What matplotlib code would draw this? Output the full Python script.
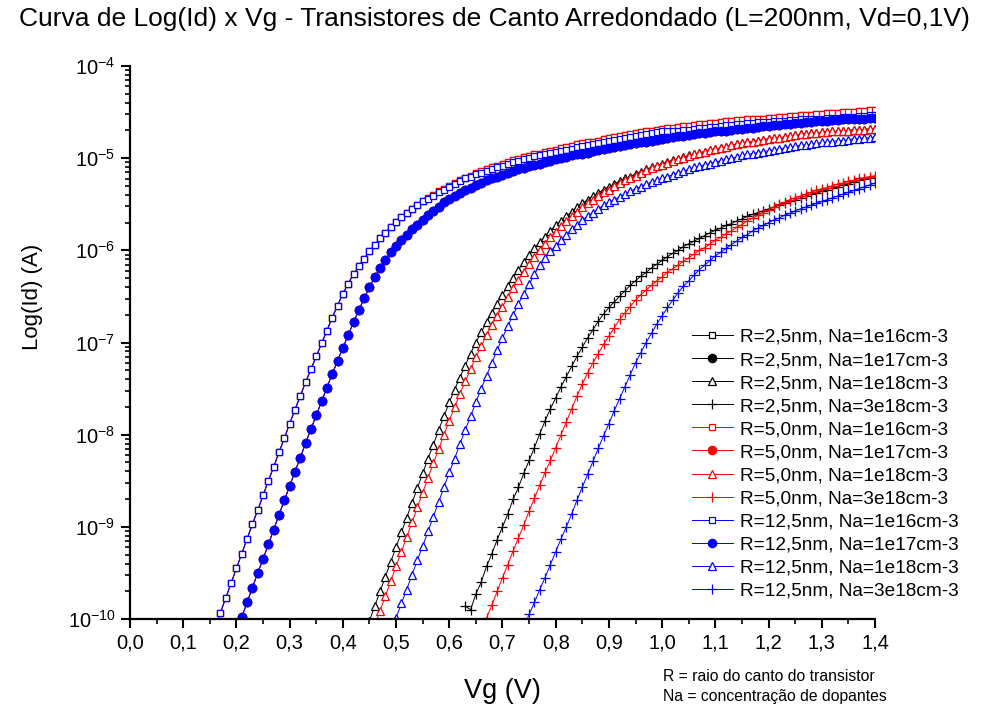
import numpy as np
import matplotlib
matplotlib.use("Agg")
import matplotlib.pyplot as plt
from matplotlib.ticker import FixedLocator, MultipleLocator, LogLocator, NullFormatter

plt.rcParams['font.family'] = ['Liberation Sans', 'DejaVu Sans']
plt.rcParams['mathtext.fontset'] = 'custom'
plt.rcParams['mathtext.rm'] = 'Liberation Sans'
plt.rcParams['mathtext.it'] = 'Liberation Sans:italic'

# ---------------------------------------------------------------------------
# Measured drain current, stored as log10(Id [A]), sampled every 0.01 V of Vg.
# Each series starts at the gate voltage given in VG_START.
# ---------------------------------------------------------------------------
VG_STEP = 0.01

# R = 2,5 nm
LOG_ID_R25_NA1E16 = [
    -10.09, -9.93, -9.77, -9.61, -9.45, -9.29, -9.13, -8.97, -8.82, -8.66,
    -8.50, -8.35, -8.19, -8.04, -7.88, -7.73, -7.58, -7.43, -7.29, -7.15,
    -7.01, -6.87, -6.73, -6.60, -6.47, -6.36, -6.26, -6.17, -6.09, -6.01,
    -5.94, -5.87, -5.81, -5.75, -5.69, -5.64, -5.59, -5.55, -5.51, -5.47,
    -5.43, -5.40, -5.36, -5.33, -5.30, -5.27, -5.24, -5.21, -5.19, -5.16,
    -5.14, -5.12, -5.10, -5.08, -5.06, -5.04, -5.02, -5.01, -4.99, -4.98,
    -4.96, -4.95, -4.93, -4.92, -4.91, -4.89, -4.88, -4.87, -4.85, -4.84,
    -4.83, -4.82, -4.81, -4.79, -4.78, -4.77, -4.76, -4.75, -4.74, -4.73,
    -4.72, -4.71, -4.70, -4.69, -4.68, -4.67, -4.67, -4.66, -4.65, -4.65,
    -4.64, -4.63, -4.63, -4.62, -4.62, -4.61, -4.60, -4.60, -4.59, -4.59,
    -4.58, -4.58, -4.57, -4.57, -4.56, -4.56, -4.55, -4.55, -4.54, -4.54,
    -4.53, -4.53, -4.53, -4.52, -4.52, -4.51, -4.51, -4.51, -4.50, -4.50,
    -4.50, -4.49, -4.49, -4.48, -4.48,
]
LOG_ID_R25_NA1E17 = [
    -10.14, -9.98, -9.82, -9.66, -9.50, -9.35, -9.19, -9.03, -8.87, -8.71,
    -8.56, -8.40, -8.25, -8.09, -7.94, -7.79, -7.64, -7.49, -7.34, -7.20,
    -7.06, -6.92, -6.78, -6.65, -6.52, -6.40, -6.29, -6.19, -6.10, -6.02,
    -5.95, -5.89, -5.83, -5.77, -5.72, -5.67, -5.62, -5.57, -5.53, -5.48,
    -5.44, -5.41, -5.38, -5.35, -5.32, -5.29, -5.27, -5.24, -5.22, -5.20,
    -5.18, -5.16, -5.14, -5.12, -5.11, -5.09, -5.07, -5.06, -5.04, -5.03,
    -5.01, -5.00, -4.99, -4.97, -4.96, -4.95, -4.94, -4.92, -4.91, -4.90,
    -4.89, -4.88, -4.87, -4.86, -4.85, -4.84, -4.83, -4.82, -4.81, -4.80,
    -4.79, -4.78, -4.77, -4.76, -4.76, -4.75, -4.74, -4.73, -4.73, -4.72,
    -4.71, -4.70, -4.70, -4.69, -4.68, -4.68, -4.67, -4.67, -4.66, -4.65,
    -4.65, -4.64, -4.64, -4.63, -4.63, -4.62, -4.62, -4.61, -4.61, -4.60,
    -4.60, -4.60, -4.59, -4.59, -4.58, -4.58, -4.58, -4.57, -4.57, -4.56,
    -4.56,
]
LOG_ID_R25_NA1E18 = [
    -10.02, -9.86, -9.70, -9.54, -9.38, -9.22, -9.06, -8.90, -8.74, -8.58,
    -8.42, -8.26, -8.11, -7.95, -7.80, -7.65, -7.51, -7.38, -7.25, -7.12,
    -7.00, -6.89, -6.78, -6.68, -6.58, -6.48, -6.39, -6.30, -6.21, -6.13,
    -6.05, -5.98, -5.91, -5.85, -5.79, -5.73, -5.68, -5.63, -5.58, -5.53,
    -5.49, -5.45, -5.41, -5.38, -5.34, -5.31, -5.28, -5.25, -5.22, -5.20,
    -5.17, -5.15, -5.12, -5.10, -5.08, -5.06, -5.04, -5.02, -5.01, -4.99,
    -4.97, -4.96, -4.94, -4.93, -4.91, -4.90, -4.89, -4.88, -4.86, -4.85,
    -4.84, -4.83, -4.82, -4.81, -4.80, -4.79, -4.78, -4.78, -4.77, -4.76,
    -4.75, -4.74, -4.74, -4.73, -4.73, -4.72, -4.72, -4.71, -4.71, -4.70,
    -4.70, -4.69, -4.69, -4.69, -4.68, -4.68,
]
LOG_ID_R25_NA3E18 = [
    -9.86, -9.90, -9.73, -9.60, -9.43, -9.29, -9.14, -9.00, -8.86, -8.70,
    -8.57, -8.42, -8.28, -8.14, -7.99, -7.85, -7.72, -7.60, -7.48, -7.37,
    -7.26, -7.15, -7.05, -6.95, -6.86, -6.77, -6.69, -6.62, -6.56, -6.50,
    -6.44, -6.38, -6.33, -6.28, -6.24, -6.19, -6.15, -6.11, -6.07, -6.03,
    -6.00, -5.96, -5.93, -5.90, -5.87, -5.84, -5.81, -5.78, -5.76, -5.73,
    -5.71, -5.68, -5.66, -5.63, -5.61, -5.59, -5.57, -5.55, -5.53, -5.51,
    -5.49, -5.47, -5.45, -5.43, -5.41, -5.39, -5.38, -5.36, -5.34, -5.32,
    -5.31, -5.29, -5.28, -5.26, -5.24, -5.23, -5.21, -5.20,
]

# R = 5,0 nm
LOG_ID_R50_NA1E16 = [
    -10.09, -9.93, -9.77, -9.61, -9.45, -9.29, -9.13, -8.97, -8.82, -8.66,
    -8.50, -8.35, -8.19, -8.04, -7.88, -7.73, -7.58, -7.43, -7.29, -7.15,
    -7.01, -6.87, -6.73, -6.60, -6.47, -6.36, -6.26, -6.17, -6.09, -6.01,
    -5.94, -5.87, -5.81, -5.75, -5.69, -5.64, -5.59, -5.55, -5.51, -5.47,
    -5.43, -5.40, -5.36, -5.33, -5.30, -5.27, -5.24, -5.21, -5.19, -5.16,
    -5.14, -5.12, -5.10, -5.08, -5.06, -5.04, -5.02, -5.01, -4.99, -4.98,
    -4.96, -4.95, -4.93, -4.92, -4.91, -4.89, -4.88, -4.87, -4.85, -4.84,
    -4.83, -4.82, -4.81, -4.79, -4.78, -4.77, -4.76, -4.75, -4.74, -4.73,
    -4.72, -4.71, -4.70, -4.69, -4.68, -4.67, -4.67, -4.66, -4.65, -4.65,
    -4.64, -4.63, -4.63, -4.62, -4.62, -4.61, -4.60, -4.60, -4.59, -4.59,
    -4.58, -4.58, -4.57, -4.57, -4.56, -4.56, -4.55, -4.55, -4.54, -4.54,
    -4.53, -4.53, -4.53, -4.52, -4.52, -4.51, -4.51, -4.51, -4.50, -4.50,
    -4.50, -4.49, -4.49, -4.48, -4.48,
]
LOG_ID_R50_NA1E17 = [
    -10.14, -9.98, -9.82, -9.66, -9.50, -9.35, -9.19, -9.03, -8.87, -8.71,
    -8.56, -8.40, -8.25, -8.09, -7.94, -7.79, -7.64, -7.49, -7.34, -7.20,
    -7.06, -6.92, -6.78, -6.65, -6.52, -6.40, -6.29, -6.19, -6.10, -6.02,
    -5.95, -5.89, -5.83, -5.77, -5.72, -5.67, -5.62, -5.57, -5.53, -5.48,
    -5.44, -5.41, -5.38, -5.35, -5.32, -5.29, -5.27, -5.24, -5.22, -5.20,
    -5.18, -5.16, -5.14, -5.12, -5.11, -5.09, -5.07, -5.06, -5.04, -5.03,
    -5.01, -5.00, -4.99, -4.97, -4.96, -4.95, -4.94, -4.92, -4.91, -4.90,
    -4.89, -4.88, -4.87, -4.86, -4.85, -4.84, -4.83, -4.82, -4.81, -4.80,
    -4.79, -4.78, -4.77, -4.76, -4.76, -4.75, -4.74, -4.73, -4.73, -4.72,
    -4.71, -4.70, -4.70, -4.69, -4.68, -4.68, -4.67, -4.67, -4.66, -4.65,
    -4.65, -4.64, -4.64, -4.63, -4.63, -4.62, -4.62, -4.61, -4.61, -4.60,
    -4.60, -4.60, -4.59, -4.59, -4.58, -4.58, -4.58, -4.57, -4.57, -4.56,
    -4.56,
]
LOG_ID_R50_NA1E18 = [
    -10.07, -9.91, -9.75, -9.59, -9.43, -9.27, -9.11, -8.95, -8.79, -8.63,
    -8.47, -8.31, -8.16, -8.00, -7.85, -7.70, -7.56, -7.42, -7.29, -7.16,
    -7.04, -6.92, -6.81, -6.71, -6.61, -6.51, -6.41, -6.32, -6.23, -6.15,
    -6.07, -6.00, -5.93, -5.86, -5.80, -5.74, -5.68, -5.63, -5.58, -5.53,
    -5.49, -5.45, -5.41, -5.37, -5.34, -5.30, -5.27, -5.24, -5.21, -5.19,
    -5.16, -5.13, -5.11, -5.09, -5.07, -5.05, -5.03, -5.01, -5.00, -4.98,
    -4.96, -4.94, -4.93, -4.91, -4.90, -4.89, -4.88, -4.86, -4.85, -4.84,
    -4.83, -4.82, -4.81, -4.80, -4.79, -4.78, -4.78, -4.77, -4.76, -4.75,
    -4.74, -4.74, -4.73, -4.73, -4.72, -4.72, -4.71, -4.71, -4.70, -4.70,
    -4.69, -4.69, -4.69, -4.68, -4.68,
]
LOG_ID_R50_NA3E18 = [
    -10.14, -9.99, -9.85, -9.70, -9.55, -9.41, -9.26, -9.12, -8.98, -8.83,
    -8.69, -8.55, -8.41, -8.28, -8.14, -8.00, -7.86, -7.72, -7.58, -7.45,
    -7.33, -7.22, -7.12, -7.02, -6.93, -6.84, -6.75, -6.68, -6.61, -6.54,
    -6.48, -6.43, -6.38, -6.33, -6.29, -6.24, -6.20, -6.16, -6.12, -6.08,
    -6.04, -6.00, -5.97, -5.93, -5.89, -5.86, -5.82, -5.79, -5.75, -5.72,
    -5.68, -5.65, -5.62, -5.59, -5.56, -5.53, -5.50, -5.48, -5.45, -5.43,
    -5.41, -5.39, -5.37, -5.35, -5.33, -5.32, -5.30, -5.28, -5.27, -5.25,
    -5.24, -5.22, -5.21, -5.20, -5.19,
]

# R = 12,5 nm
LOG_ID_R125_NA1E16 = [
    -10.09, -9.93, -9.77, -9.61, -9.45, -9.29, -9.13, -8.97, -8.82, -8.66,
    -8.50, -8.35, -8.19, -8.04, -7.88, -7.73, -7.58, -7.43, -7.29, -7.15,
    -7.01, -6.87, -6.73, -6.60, -6.47, -6.36, -6.26, -6.17, -6.09, -6.01,
    -5.94, -5.87, -5.81, -5.75, -5.69, -5.64, -5.59, -5.55, -5.51, -5.47,
    -5.44, -5.41, -5.37, -5.34, -5.31, -5.28, -5.25, -5.22, -5.20, -5.17,
    -5.16, -5.14, -5.12, -5.10, -5.08, -5.06, -5.04, -5.03, -5.01, -5.00,
    -4.98, -4.97, -4.95, -4.94, -4.93, -4.92, -4.91, -4.90, -4.88, -4.87,
    -4.86, -4.85, -4.84, -4.82, -4.81, -4.80, -4.79, -4.78, -4.77, -4.76,
    -4.75, -4.74, -4.73, -4.72, -4.71, -4.71, -4.71, -4.70, -4.69, -4.69,
    -4.68, -4.67, -4.67, -4.66, -4.66, -4.65, -4.64, -4.64, -4.63, -4.63,
    -4.62, -4.62, -4.61, -4.61, -4.61, -4.60, -4.60, -4.60, -4.59, -4.59,
    -4.58, -4.58, -4.58, -4.57, -4.57, -4.56, -4.56, -4.56, -4.55, -4.55,
    -4.55, -4.54, -4.54, -4.53, -4.53,
]
LOG_ID_R125_NA1E17 = [
    -10.14, -9.98, -9.82, -9.66, -9.50, -9.35, -9.19, -9.03, -8.87, -8.71,
    -8.56, -8.40, -8.25, -8.09, -7.94, -7.79, -7.64, -7.49, -7.34, -7.20,
    -7.06, -6.92, -6.78, -6.65, -6.52, -6.40, -6.29, -6.19, -6.10, -6.02,
    -5.95, -5.89, -5.83, -5.77, -5.72, -5.67, -5.62, -5.57, -5.53, -5.48,
    -5.44, -5.41, -5.38, -5.35, -5.32, -5.29, -5.27, -5.24, -5.22, -5.20,
    -5.18, -5.16, -5.14, -5.12, -5.11, -5.09, -5.07, -5.06, -5.04, -5.03,
    -5.01, -5.00, -4.99, -4.97, -4.96, -4.95, -4.94, -4.92, -4.91, -4.90,
    -4.89, -4.88, -4.87, -4.86, -4.85, -4.84, -4.83, -4.82, -4.81, -4.80,
    -4.79, -4.78, -4.77, -4.76, -4.76, -4.75, -4.74, -4.73, -4.73, -4.72,
    -4.71, -4.70, -4.70, -4.69, -4.68, -4.68, -4.67, -4.67, -4.66, -4.65,
    -4.65, -4.64, -4.64, -4.63, -4.63, -4.62, -4.62, -4.61, -4.61, -4.60,
    -4.60, -4.60, -4.59, -4.59, -4.58, -4.58, -4.58, -4.57, -4.57, -4.56,
    -4.56,
]
LOG_ID_R125_NA1E18 = [
    -10.14, -9.99, -9.83, -9.68, -9.52, -9.36, -9.21, -9.05, -8.89, -8.73,
    -8.57, -8.41, -8.26, -8.10, -7.95, -7.80, -7.65, -7.50, -7.36, -7.22,
    -7.08, -6.95, -6.82, -6.70, -6.58, -6.47, -6.37, -6.26, -6.16, -6.08,
    -6.01, -5.95, -5.89, -5.83, -5.77, -5.72, -5.67, -5.63, -5.59, -5.55,
    -5.51, -5.48, -5.45, -5.42, -5.39, -5.36, -5.33, -5.31, -5.28, -5.26,
    -5.24, -5.22, -5.20, -5.18, -5.16, -5.14, -5.12, -5.10, -5.09, -5.07,
    -5.06, -5.04, -5.03, -5.01, -5.00, -4.99, -4.97, -4.96, -4.95, -4.94,
    -4.93, -4.92, -4.91, -4.90, -4.89, -4.88, -4.87, -4.86, -4.86, -4.85,
    -4.84, -4.83, -4.83, -4.82, -4.81, -4.81, -4.80, -4.79, -4.79, -4.78,
    -4.78, -4.77,
]
LOG_ID_R125_NA3E18 = [
    -10.09, -9.95, -9.82, -9.68, -9.55, -9.41, -9.27, -9.13, -9.00, -8.86,
    -8.71, -8.57, -8.43, -8.29, -8.15, -8.01, -7.88, -7.74, -7.61, -7.48,
    -7.35, -7.22, -7.11, -7.00, -6.90, -6.80, -6.71, -6.62, -6.54, -6.46,
    -6.39, -6.33, -6.27, -6.21, -6.16, -6.11, -6.06, -6.02, -5.98, -5.94,
    -5.90, -5.86, -5.83, -5.79, -5.76, -5.73, -5.70, -5.67, -5.65, -5.62,
    -5.60, -5.57, -5.55, -5.53, -5.51, -5.49, -5.47, -5.45, -5.43, -5.41,
    -5.39, -5.37, -5.35, -5.33, -5.31, -5.29, -5.27,
]

# First gate voltage (V) of each series
VG_START = {
    'R25_NA1E16': 0.16, 'R25_NA1E17': 0.20, 'R25_NA1E18': 0.45, 'R25_NA3E18': 0.63,
    'R50_NA1E16': 0.16, 'R50_NA1E17': 0.20, 'R50_NA1E18': 0.46, 'R50_NA3E18': 0.66,
    'R125_NA1E16': 0.16, 'R125_NA1E17': 0.20, 'R125_NA1E18': 0.49, 'R125_NA3E18': 0.74,
}

LEGEND_LABELS = [
    'R=2,5nm, Na=1e16cm-3', 'R=2,5nm, Na=1e17cm-3', 'R=2,5nm, Na=1e18cm-3', 'R=2,5nm, Na=3e18cm-3',
    'R=5,0nm, Na=1e16cm-3', 'R=5,0nm, Na=1e17cm-3', 'R=5,0nm, Na=1e18cm-3', 'R=5,0nm, Na=3e18cm-3',
    'R=12,5nm, Na=1e16cm-3', 'R=12,5nm, Na=1e17cm-3', 'R=12,5nm, Na=1e18cm-3', 'R=12,5nm, Na=3e18cm-3',
]

X_TICKS = [0.0, 0.1, 0.2, 0.3, 0.4, 0.5, 0.6, 0.7, 0.8, 0.9, 1.0, 1.1, 1.2, 1.3, 1.4]
X_TICK_LABELS = ['0,0', '0,1', '0,2', '0,3', '0,4', '0,5', '0,6', '0,7', '0,8', '0,9',
                 '1,0', '1,1', '1,2', '1,3', '1,4']
Y_DECADES = [-10, -9, -8, -7, -6, -5, -4]

series = [
    ('R25_NA1E16', LOG_ID_R25_NA1E16), ('R25_NA1E17', LOG_ID_R25_NA1E17),
    ('R25_NA1E18', LOG_ID_R25_NA1E18), ('R25_NA3E18', LOG_ID_R25_NA3E18),
    ('R50_NA1E16', LOG_ID_R50_NA1E16), ('R50_NA1E17', LOG_ID_R50_NA1E17),
    ('R50_NA1E18', LOG_ID_R50_NA1E18), ('R50_NA3E18', LOG_ID_R50_NA3E18),
    ('R125_NA1E16', LOG_ID_R125_NA1E16), ('R125_NA1E17', LOG_ID_R125_NA1E17),
    ('R125_NA1E18', LOG_ID_R125_NA1E18), ('R125_NA3E18', LOG_ID_R125_NA3E18),
]

# Styling: colour by corner radius, marker by doping
colors = {'R25': '#000000', 'R50': '#ff0000', 'R125': '#0000ff'}
marker_style = {
    'NA1E16': dict(marker='s', markersize=5.0, markerfacecolor='white'),
    'NA1E17': dict(marker='o', markersize=6.0),
    'NA1E18': dict(marker='^', markersize=6.0, markerfacecolor='white'),
    'NA3E18': dict(marker='+', markersize=7.0),
}

fig = plt.figure(figsize=(9.89, 7.08), dpi=100)
ax = fig.add_axes([130 / 989, 89 / 708, 745 / 989, 553 / 708])

handles = []
for (key, logs), label in zip(series, LEGEND_LABELS):
    radius, doping = key.split('_')
    vg = VG_START[key] + VG_STEP * np.arange(len(logs))
    idrain = 10.0 ** np.asarray(logs)
    col = colors[radius]
    style = dict(marker_style[doping])
    if 'markerfacecolor' not in style:
        style['markerfacecolor'] = col
    h, = ax.plot(vg, idrain, color=col, linewidth=0.7, markeredgecolor=col,
                 markeredgewidth=0.9, label=label, **style)
    handles.append(h)

ax.set_yscale('log')
ax.set_xlim(0.0, 1.4)
ax.set_ylim(1e-10, 1e-4)

ax.xaxis.set_major_locator(FixedLocator(X_TICKS))
ax.set_xticklabels(X_TICK_LABELS)
ax.xaxis.set_minor_locator(MultipleLocator(0.05))

ax.yaxis.set_major_locator(FixedLocator([10.0 ** d for d in Y_DECADES]))
ax.set_yticklabels([r'$\mathregular{10^{%d}}$' % d for d in Y_DECADES])
ax.yaxis.set_minor_locator(LogLocator(base=10, subs=np.arange(2, 10), numticks=20))
ax.yaxis.set_minor_formatter(NullFormatter())

for side in ('top', 'right'):
    ax.spines[side].set_visible(False)
for side in ('left', 'bottom'):
    ax.spines[side].set_linewidth(1.6)

ax.tick_params(axis='both', which='major', direction='out', length=6.5, width=1.5,
               labelsize=14.5, pad=4)
ax.tick_params(axis='both', which='minor', direction='out', length=3.5, width=1.2)

ax.set_xlabel('Vg (V)', fontsize=19.5)
ax.xaxis.set_label_coords(0.5, -0.106)
ax.set_ylabel('Log(Id) (A)', fontsize=16)
ax.yaxis.set_label_coords(-0.117, 0.582)

ax.legend(handles=handles, loc='upper left', bbox_to_anchor=(0.754, 0.525),
          frameon=False, fontsize=13.7, handlelength=2.16, handletextpad=0.37,
          labelspacing=0.30, borderaxespad=0.0, borderpad=0.0)

fig.text(0.5, 1 - 19 / 708,
         'Curva de Log(Id) x Vg - Transistores de Canto Arredondado (L=200nm, Vd=0,1V)',
         ha='center', va='center', fontsize=19)
fig.text(663 / 989, 1 - 681 / 708, 'R = raio do canto do transistor', fontsize=11.3,
         va='baseline')
fig.text(663 / 989, 1 - 701 / 708, 'Na = concentração de dopantes', fontsize=11.3,
         va='baseline')

fig.savefig('out.png', dpi=100)
